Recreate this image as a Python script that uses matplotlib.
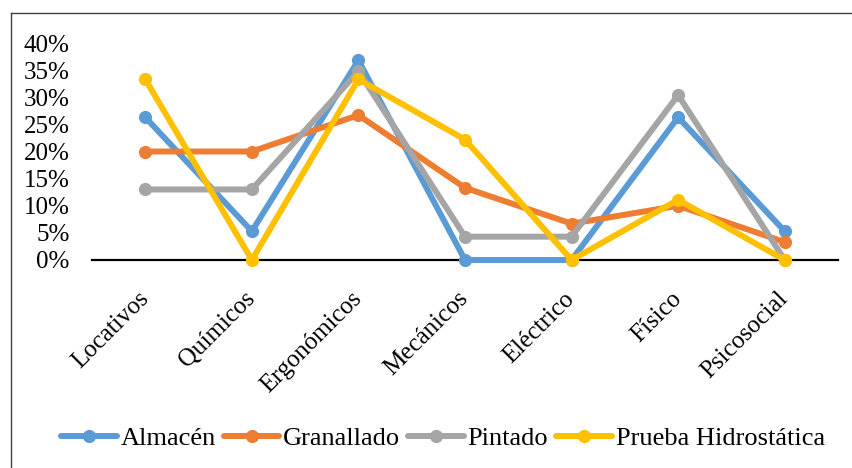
import matplotlib
matplotlib.use("Agg")
import matplotlib.pyplot as plt
from matplotlib.lines import Line2D
from matplotlib.transforms import ScaledTranslation

categories = ["Locativos", "Químicos", "Ergonómicos", "Mecánicos",
              "Eléctrico", "Físico", "Psicosocial"]
almacen = [26.3, 5.3, 36.8, 0.0, 0.0, 26.3, 5.3]
granallado = [20.0, 20.0, 26.7, 13.3, 6.7, 10.0, 3.3]
pintado = [13.0, 13.0, 34.8, 4.3, 4.3, 30.4, 0.0]
prueba = [33.3, 0.0, 33.3, 22.2, 0.0, 11.1, 0.0]
series_names = ["Almacén", "Granallado", "Pintado", "Prueba Hidrostática"]
yticks = [0, 5, 10, 15, 20, 25, 30, 35, 40]

colors = ["#5B9BD5", "#ED7D31", "#A5A5A5", "#FFC000"]
LW = 4.3
MS = 9.5

plt.rcParams["font.family"] = ["Liberation Serif", "DejaVu Serif"]
W, H = 853, 468
fig = plt.figure(figsize=(W / 100, H / 100), dpi=100)
ax = fig.add_axes([92 / W, 1 - 260 / H, (838 - 92) / W, (260 - 43) / H])

x = list(range(len(categories)))
for name, vals, c in zip(series_names, [almacen, granallado, pintado, prueba], colors):
    ax.plot(x, vals, color=c, lw=LW, marker="o", markersize=MS, markeredgewidth=0,
            solid_joinstyle="round", solid_capstyle="round", label=name, zorder=3,
            clip_on=False)

ax.set_xlim(-0.5, len(categories) - 0.5)
ax.set_ylim(0, 40)
ax.set_yticks(yticks)
ax.set_yticklabels([f"{v}%" for v in yticks], fontsize=18)
ax.set_xticks(x)
ax.set_xticklabels(categories, fontsize=18, rotation=45, ha="right",
                   rotation_mode="anchor")
ax.tick_params(axis="both", length=0)
ax.tick_params(axis="y", pad=16)
ax.tick_params(axis="x", pad=12)
# nudge the slanted category labels down and to the left
shift = ScaledTranslation(-8 / 100, -11 / 100, fig.dpi_scale_trans)
for lbl in ax.get_xticklabels():
    lbl.set_transform(lbl.get_transform() + shift)
for s in ["left", "right", "top"]:
    ax.spines[s].set_visible(False)
ax.spines["bottom"].set_linewidth(1.6)
ax.spines["bottom"].set_color("black")
ax.spines["bottom"].set_zorder(2)

handles = [Line2D([0], [0], color=c, lw=LW, marker="o", markersize=MS,
                  markeredgewidth=0, solid_capstyle="round") for c in colors]
fig.legend(handles, series_names, loc="center", bbox_to_anchor=(443 / W, 1 - 438 / H),
           ncol=4, frameon=False, fontsize=19, handlelength=2.1, handletextpad=0.15,
           columnspacing=0.3, borderpad=0, borderaxespad=0)

# frame lines along top and left edge
fig.add_artist(Line2D([11 / W, 1], [1 - 13 / H, 1 - 13 / H], color="#404040", lw=1.0,
                      transform=fig.transFigure))
fig.add_artist(Line2D([11 / W, 11 / W], [0, 1 - 13 / H], color="#404040", lw=1.0,
                      transform=fig.transFigure))

fig.savefig("out.png", dpi=100)
